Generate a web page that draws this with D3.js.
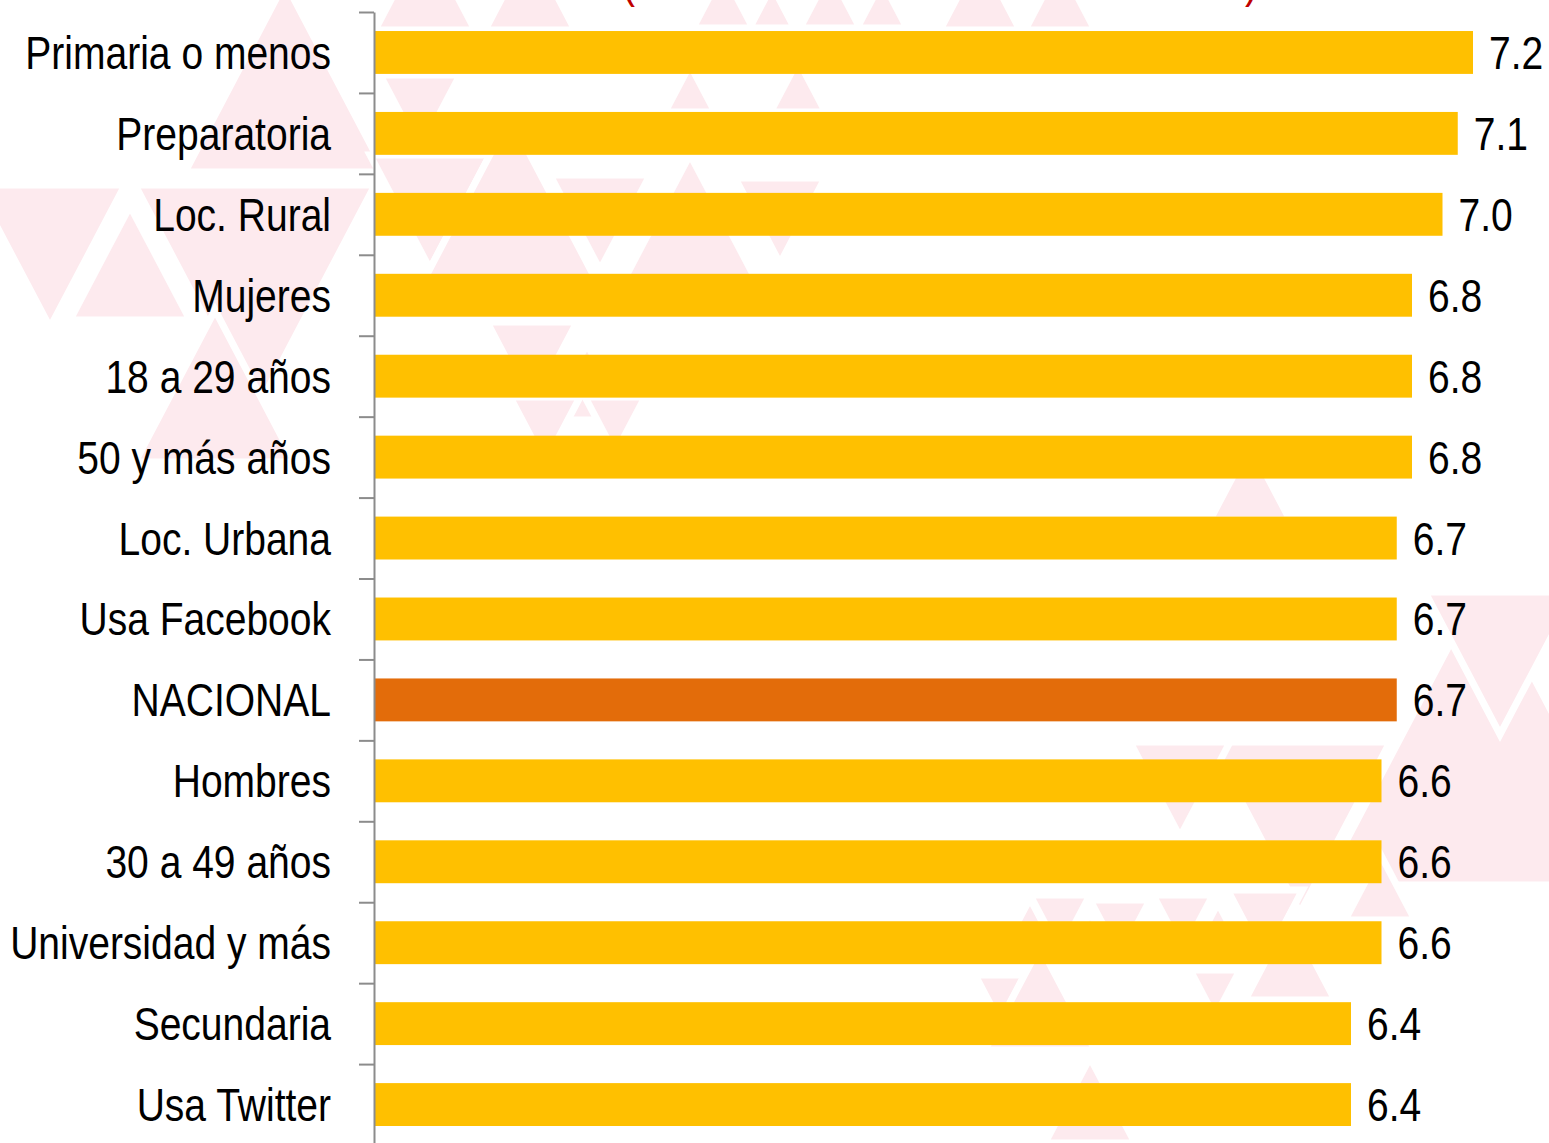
<!DOCTYPE html>
<html>
<head>
<meta charset="utf-8">
<script src="https://cdn.jsdelivr.net/npm/d3@7"></script>
<style>
  html, body { margin: 0; padding: 0; background: #ffffff; }
  svg { display: block; }
  .lbl { font-family: "Liberation Sans", Arial, sans-serif; font-size: 47px; fill: #000; }
</style>
</head>
<body>
<svg id="chart" width="1549" height="1143"></svg>
<script>
// Categories, top to bottom
const categories = [
  "Primaria o menos", "Preparatoria", "Loc. Rural", "Mujeres",
  "18 a 29 años", "50 y más años", "Loc. Urbana", "Usa Facebook",
  "NACIONAL", "Hombres", "30 a 49 años", "Universidad y más",
  "Secundaria", "Usa Twitter"
];
// Average score per group
const values = [7.2, 7.1, 7.0, 6.8, 6.8, 6.8, 6.7, 6.7, 6.7, 6.6, 6.6, 6.6, 6.4, 6.4];
// Group that gets the highlight colour
const highlight = "NACIONAL";

// Decorative background mosaic: [direction, centre x, base y, width]
const mosaic = [
  // left
  ["up", 285, 172, 200], ["dn", 50, 185, 150], ["dn", 255, 185, 240],
  ["up", 130, 320, 120], ["up", 215, 462, 160],
  // upper centre
  ["up", 425, 30, 100], ["up", 530, 30, 90], ["up", 723, 28, 60],
  ["up", 772, 28, 45], ["up", 830, 28, 60], ["up", 882, 28, 50],
  ["up", 980, 30, 80], ["up", 1060, 30, 70],
  ["dn", 420, 75, 80], ["up", 690, 112, 50], ["up", 798, 112, 55],
  ["dn", 430, 155, 120], ["up", 510, 278, 170], ["dn", 600, 175, 100],
  ["up", 690, 278, 130], ["dn", 780, 178, 90],
  ["dn", 532, 322, 90], ["up", 587, 420, 80], ["dn", 545, 397, 70],
  ["dn", 615, 397, 60],
  // right
  ["up", 1250, 520, 80], ["up", 1483, 885, 320], ["dn", 1300, 742, 180],
  ["dn", 1500, 592, 150], ["dn", 1180, 742, 100],
  // lower right
  ["up", 1030, 965, 70], ["dn", 1060, 895, 60], ["up", 1090, 960, 50],
  ["dn", 1120, 900, 60], ["dn", 1183, 895, 60], ["up", 1218, 960, 60],
  ["dn", 1265, 890, 75], ["up", 1290, 1000, 90], ["dn", 1000, 975, 50],
  ["up", 1040, 1050, 110], ["up", 1090, 1143, 90], ["dn", 1215, 970, 50],
  ["up", 1380, 920, 70]
];

const svg = d3.select("#chart");

// background mosaic
const triPath = ([dir, cx, by, w]) => {
  const h = w * 0.95;
  const ay = dir === "up" ? by - h : by + h;
  return `M${cx - w / 2},${by}L${cx + w / 2},${by}L${cx},${ay}Z`;
};
svg.append("g")
  .selectAll("path")
  .data(mosaic)
  .join("path")
  .attr("d", triPath)
  .attr("fill", "#fdeaee")
  .attr("stroke", "#ffffff")
  .attr("stroke-width", 7)
  .attr("stroke-linejoin", "miter");

// scales
const plotLeft = 375, plotTop = 12, step = 80.93;
const plotBottom = plotTop + step * categories.length;

const y = d3.scaleBand()
  .domain(categories)
  .range([plotTop, plotBottom])
  .paddingInner(0.47)
  .paddingOuter(0.235);

const x = d3.scaleLinear()
  .domain([0, 7.2])
  .range([plotLeft, 1473]);

// bars
svg.append("g")
  .selectAll("rect")
  .data(categories)
  .join("rect")
  .attr("x", x(0))
  .attr("y", d => y(d))
  .attr("width", (d, i) => x(values[i]) - x(0))
  .attr("height", y.bandwidth())
  .attr("fill", d => d === highlight ? "#e36c0a" : "#ffc000");

// category axis, with ticks on the band boundaries
const edges = d3.scaleLinear().domain([0, categories.length]).range([plotTop, plotBottom]);
const axis = svg.append("g")
  .attr("transform", `translate(${plotLeft - 1},0)`)
  .call(d3.axisLeft(edges)
    .tickValues(d3.range(0, categories.length + 1))
    .tickSize(15)
    .tickSizeOuter(0)
    .tickFormat(""));
axis.select(".domain").attr("stroke", "#8c8c8c").attr("stroke-width", 2);
axis.selectAll(".tick line").attr("stroke", "#8c8c8c").attr("stroke-width", 2);

// condensed text: regular face squeezed horizontally
const squeeze = 0.83;
const baselineOffset = y.bandwidth() / 2 + 16.5;

// category labels
svg.append("g")
  .selectAll("text")
  .data(categories)
  .join("text")
  .attr("class", "lbl")
  .attr("transform", d => `translate(331,${y(d) + baselineOffset}) scale(${squeeze},1)`)
  .attr("text-anchor", "end")
  .text(d => d);

// value labels
svg.append("g")
  .selectAll("text")
  .data(categories)
  .join("text")
  .attr("class", "lbl")
  .attr("transform", (d, i) => `translate(${x(values[i]) + 16},${y(d) + baselineOffset}) scale(${squeeze},1)`)
  .text((d, i) => values[i].toFixed(1));

// bottom of the title's parentheses, peeking in from above
svg.append("g")
  .selectAll("text")
  .data([["(", 622], [")", 1245]])
  .join("text")
  .attr("class", "lbl")
  .attr("transform", d => `translate(${d[1]},-3) scale(${squeeze},1)`)
  .style("fill", "#c00000")
  .text(d => d[0]);
</script>
</body>
</html>
